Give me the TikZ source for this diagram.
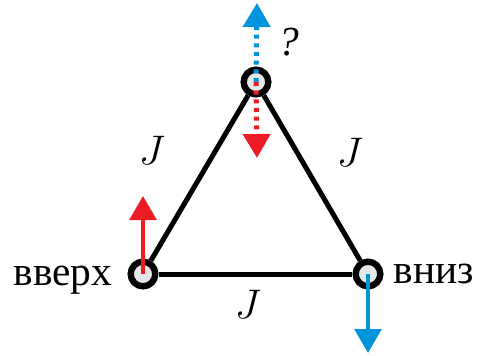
\RequirePackage{fix-cm}
\documentclass[tikz,border=0pt]{standalone}
\usepackage{fontspec}
\setmainfont{Liberation Serif}
\usetikzlibrary{arrows.meta}
\definecolor{spinred}{HTML}{ED1C24}
\definecolor{spinblue}{HTML}{0095DA}
\definecolor{sitegray}{HTML}{E6E7E8}

\begin{document}
\begin{tikzpicture}[x=0.75pt, y=-0.75pt,
  site/.style={circle, draw, line width=4.8pt, fill=sitegray, minimum size=18.5pt, inner sep=0pt},
  bond/.style={line width=3.75pt},
  spin/.style={line width=3pt, -{Triangle[length=18pt, width=20pt]}},
  guess/.style={spin, line width=3.75pt, dash pattern=on 3pt off 3.5pt},
  lbl/.style={font=\fontsize{31}{36}\selectfont}]
    \useasboundingbox (0,0) rectangle (478,356);

    % sites
    \node[site] (sL) at (143,274) {};
    \node[site] (sR) at (368,274) {};
    \node[site] (sT) at (256,82) {};

    % bonds
    \draw[bond] (sL) -- (sT);
    \draw[bond] (sT) -- (sR);
    \draw[bond] (sL) -- (sR);

    % couplings
    \node[lbl] (jL) at (152,150) {$J$};
    \node[lbl] (jR) at (350,152) {$J$};
    \node[lbl] (jB) at (248,304) {$J$};

    % spins
    \coordinate (upTip) at (143,196);
    \coordinate (dnTip) at (368,353);
    \draw[spin, spinred] (sL.center) -- (upTip);
    \draw[spin, spinblue] (sR.center) -- (dnTip);

    % frustrated spin
    \coordinate (qUp) at (257,3);
    \coordinate (qDn) at (257,158);
    \draw[guess, spinblue] (sT.center) -- (qUp);
    \draw[guess, spinred] (sT.center) -- (qDn);
    \node[lbl, anchor=base] (q) at (289,56) {\itshape ?};

    % labels
    \node[lbl, anchor=base] (nUp) at (63,285) {вверх};
    \node[lbl, anchor=base] (nDn) at (434,283) {вниз};
\end{tikzpicture}
\end{document}
